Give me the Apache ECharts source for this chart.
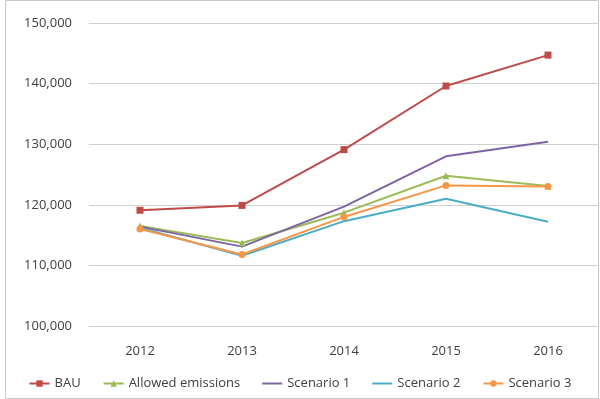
<!DOCTYPE html>
<html>
<head>
<meta charset="utf-8">
<script src="https://cdn.jsdelivr.net/npm/echarts@6/dist/echarts.min.js"></script>
<style>
  html, body { margin: 0; padding: 0; background: #fff; }
  #chart { width: 600px; height: 399px; }
</style>
</head>
<body>
<div id="chart"></div>
<script>
const years = ['2012', '2013', '2014', '2015', '2016'];
const bau = [119100, 119900, 129100, 139600, 144700];
const allowed = [116500, 113700, 118700, 124800, 123100];
const scenario1 = [116400, 113100, 119700, 128000, 130400];
const scenario2 = [116200, 111600, 117300, 121000, 117200];
const scenario3 = [116000, 111800, 118000, 123200, 123000];

const chart = echarts.init(document.getElementById('chart'));

const plainLine = 'path://M0,0H20V2H0Z';

function line(name, data, color, symbol, size) {
  return {
    name: name,
    type: 'line',
    data: data,
    symbol: symbol,
    symbolSize: size,
    lineStyle: { color: color, width: 2 },
    itemStyle: { color: color },
    emphasis: { disabled: true }
  };
}

const option = {
  animation: false,
  textStyle: { fontFamily: 'Open Sans', color: '#404040' },
  graphic: [{
    type: 'rect',
    shape: { x: 5.5, y: 0.5, width: 593, height: 398 },
    style: { fill: 'none', stroke: '#c8c8c8', lineWidth: 1 }
  }],
  legend: {
    bottom: 4,
    left: 'center',
    itemGap: 22,
    itemWidth: 20,
    itemHeight: 8,
    textStyle: { fontSize: 13, color: '#404040' },
    data: [
      { name: 'BAU' },
      { name: 'Allowed emissions' },
      { name: 'Scenario 1', icon: plainLine, itemStyle: { color: '#7F64A2' } },
      { name: 'Scenario 2', icon: plainLine, itemStyle: { color: '#4BACC6' } },
      { name: 'Scenario 3' }
    ]
  },
  grid: { left: 89, right: 1, top: 23, bottom: 73 },
  xAxis: {
    type: 'category',
    data: years,
    boundaryGap: true,
    axisLine: { show: false },
    axisTick: { show: false },
    axisLabel: { fontSize: 13, color: '#404040', margin: 19 }
  },
  yAxis: {
    type: 'value',
    min: 100000,
    max: 150000,
    interval: 10000,
    axisLine: { show: false },
    axisTick: { show: false },
    axisLabel: {
      fontSize: 13,
      color: '#404040',
      margin: 17,
      formatter: (v) => v.toLocaleString('en-US')
    },
    splitLine: { lineStyle: { color: '#d0d0d0', width: 1 } }
  },
  series: [
    line('BAU', bau, '#BE4B48', 'rect', 7),
    line('Allowed emissions', allowed, '#9BBB59', 'triangle', 7),
    line('Scenario 1', scenario1, '#7F64A2', 'none', 0),
    line('Scenario 2', scenario2, '#4BACC6', 'none', 0),
    line('Scenario 3', scenario3, '#F79646', 'circle', 7)
  ]
};
chart.setOption(option);
</script>
</body>
</html>
